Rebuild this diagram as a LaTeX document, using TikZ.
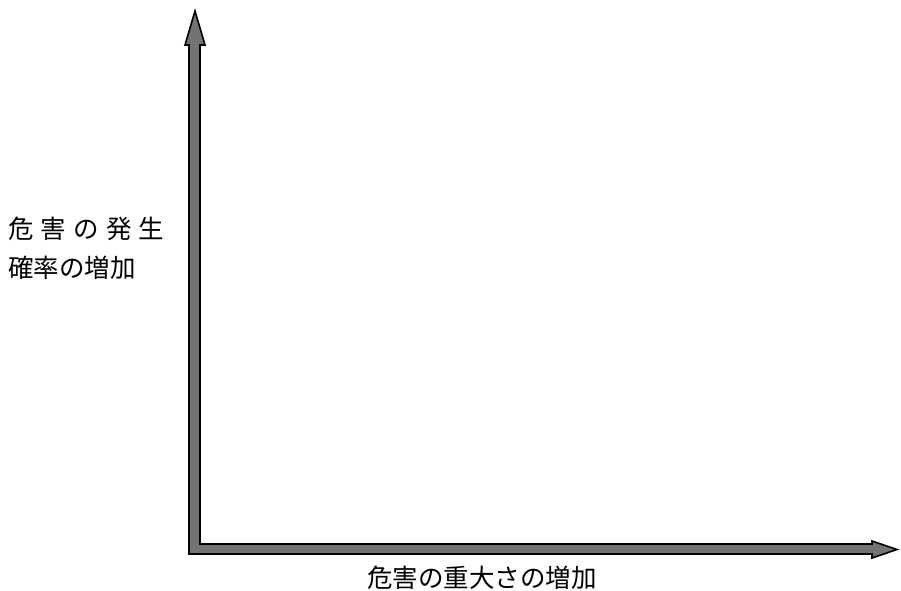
\documentclass[tikz,border=0pt]{standalone}
\usepackage{fontspec}
\newfontfamily\jpfont{Noto Sans CJK JP}
\begin{document}
\begin{tikzpicture}[x=1pt,y=-1pt,
  axis/.style={fill=black!55,draw=black,line width=1.6pt,line join=miter},
  lbl/.style={font=\jpfont\fontsize{25.5}{30}\selectfont,inner sep=0pt,text=black}]
\useasboundingbox (0,0) rectangle (901,590);
% axes as one arrow-shaped polygon
\draw[axis] (189,549) -- (189,45) -- (185,45) -- (195,11) -- (205,45) -- (200,45)
  -- (200,544) -- (872,544) -- (872,541) -- (897,549.5) -- (872,558) -- (872,554)
  -- (189,554) -- cycle;
\node[lbl,anchor=west] (l1) at (8,229) {危\hspace{0.28em}害\hspace{0.28em}の\hspace{0.28em}発\hspace{0.28em}生};
\node[lbl,anchor=west] (l2) at (8,268) {確率の増加};
\node[lbl] (xl) at (482,578) {危害の重大さの増加};
\end{tikzpicture}
\end{document}
